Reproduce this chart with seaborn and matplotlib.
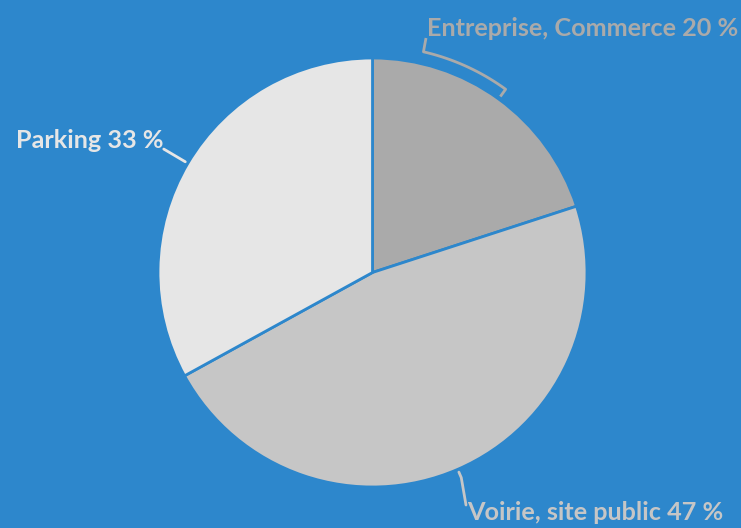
import numpy as np
import matplotlib
matplotlib.use("Agg")
import matplotlib.pyplot as plt
import seaborn as sns

# Data
categories = ["Entreprise, Commerce", "Voirie, site public", "Parking"]
shares = [20, 47, 33]
slice_colors = ["#aaaaaa", "#c6c6c6", "#e6e6e6"]

BG = "#2d87cc"

sns.set_theme(style="white")
plt.rcParams["font.family"] = ["Lato", "DejaVu Sans"]

W, H = 741, 528
fig = plt.figure(figsize=(W / 100, H / 100), dpi=100, facecolor=BG)
ax = fig.add_axes([0, 0, 1, 1])
ax.set_facecolor(BG)

cx, cy, R = 372.5, H - 272.5, 214.5
wedges, _ = ax.pie(shares, colors=slice_colors, startangle=90, counterclock=False,
                   center=(cx, cy), radius=R, frame=True,
                   wedgeprops=dict(edgecolor=BG, linewidth=2))
ax.set_xlim(0, W)
ax.set_ylim(0, H)
ax.set_aspect("equal")
ax.axis("off")


def pt(angle_deg, r):
    a = np.radians(angle_deg)
    return cx + r * np.cos(a), cy + r * np.sin(a)


mids = [(w.theta1 + w.theta2) / 2 for w in wedges]
fs = 18.2

# Entreprise label with bracket-style connector
m = mids[0]
x0, y0 = pt(m, R + 3)
x1, y1 = pt(m, R + 12)
arc = np.linspace(m, 77, 20)
ax_, ay_ = pt(arc, R + 12)
lx, ly = 427, H - 38
xs = np.concatenate([[x0, x1], ax_, [lx - 1]])
ys = np.concatenate([[y0, y1], ay_, [ly]])
ax.plot(xs, ys, color=slice_colors[0], lw=2, solid_capstyle="butt")
ax.text(lx, H - 28, f"{categories[0]} {shares[0]} %", color=slice_colors[0],
        fontsize=fs, fontweight="bold", ha="left", va="center")

# Voirie label
m = mids[1]
x0, y0 = pt(m, R + 3)
x1, y1 = pt(m, R + 9)
ax.plot([x0, x1, 466], [y0, y1, H - 505], color=slice_colors[1], lw=2)
ax.text(467, H - 512, f"{categories[1]} {shares[1]} %", color=slice_colors[1],
        fontsize=fs, fontweight="bold", ha="left", va="center")

# Parking label
m = mids[2]
x0, y0 = pt(m, R + 3)
x1, y1 = pt(m, R + 28)
ax.plot([x0, x1], [y0, y1], color=slice_colors[2], lw=2)
ax.text(x1, H - 140, f"{categories[2]} {shares[2]} %", color=slice_colors[2],
        fontsize=fs, fontweight="bold", ha="right", va="center")

fig.savefig("out.png", dpi=100, facecolor=BG)
